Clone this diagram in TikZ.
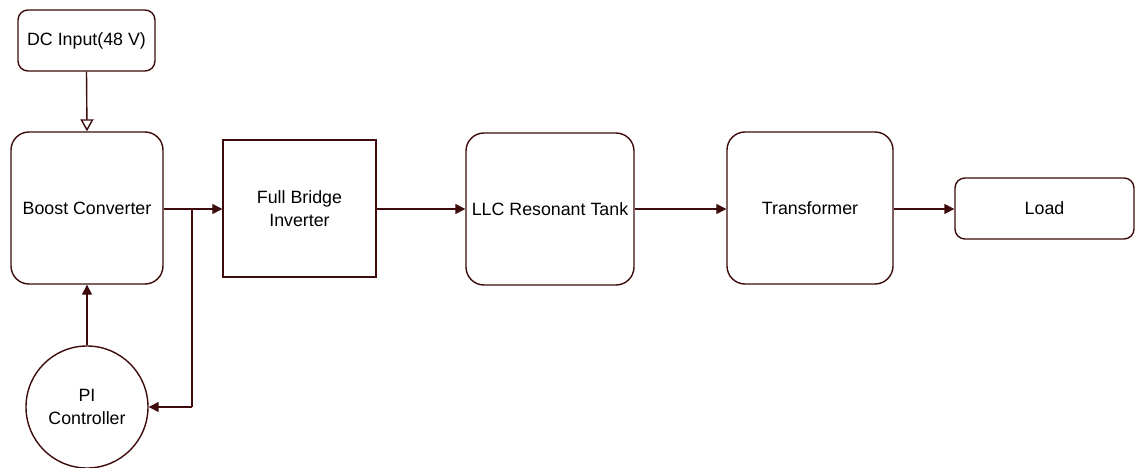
\documentclass[tikz,border=0pt]{standalone}
\usepackage{fontspec}
\setmainfont{Liberation Sans}
\usetikzlibrary{arrows.meta}
\definecolor{ln}{HTML}{3D0B0B}
\begin{document}
\begin{tikzpicture}[x=1pt,y=-1pt,
  every node/.style={font=\fontsize{17.8}{23}\selectfont, text=black, align=center},
  rbox/.style={draw=ln, line width=1.4pt, rounded corners=18pt, inner sep=0pt},
  sbox/.style={draw=ln, line width=1.4pt, rounded corners=10pt, inner sep=0pt},
  pbox/.style={draw=ln, line width=1.4pt, inner sep=0pt},
  conn/.style={draw=ln, line width=1.4pt, -{Triangle[length=10pt,width=10pt,fill=ln]}},
  openconn/.style={draw=ln, line width=1.4pt, -{Triangle[open,length=12pt,width=13pt]}}]
\useasboundingbox (0,0) rectangle (1136,468);
\node[sbox, minimum width=137pt, minimum height=61pt] (dc) at (86.5,40.5) {DC Input(48 V)};
\node[rbox, minimum width=152pt, minimum height=152pt] (boost) at (87,208) {Boost Converter};
\node[pbox, minimum width=153pt, minimum height=137pt] (inv) at (299.5,208.5) {Full Bridge\\Inverter};
\node[rbox, minimum width=168pt, minimum height=152pt] (llc) at (550,209) {LLC Resonant Tank};
\node[rbox, minimum width=166pt, minimum height=152pt] (tr) at (810,208) {Transformer};
\node[sbox, minimum width=179pt, minimum height=61pt] (load) at (1044.5,208.5) {Load};
\node[draw=ln, line width=1.4pt, circle, minimum size=122pt, inner sep=0pt] (pi) at (87,407) {PI\\Controller};
\coordinate (j) at (192,209);
\coordinate (k) at (192,407);
\draw[openconn] (dc.south) -- (boost.north);
\draw[conn] (boost.east |- j) -- (inv.west |- j);
\draw[draw=ln, line width=1.4pt] (j) -- (k);
\draw[conn] (k) -- (pi.east);
\draw[conn] (pi.north) -- (boost.south);
\draw[conn] (inv.east |- j) -- (llc.west |- j);
\draw[conn] (llc.east |- j) -- (tr.west |- j);
\draw[conn] (tr.east |- j) -- (load.west |- j);
\end{tikzpicture}
\end{document}
